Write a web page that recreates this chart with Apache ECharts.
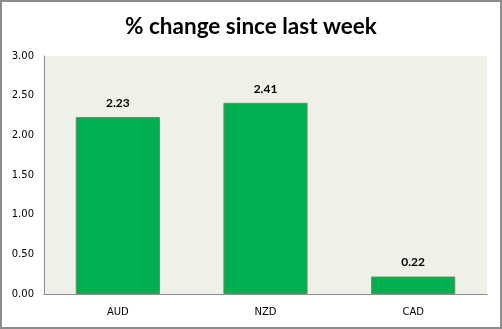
<!DOCTYPE html>
<html>
<head>
<meta charset="utf-8">
<script src="https://cdn.jsdelivr.net/npm/echarts@6/dist/echarts.min.js"></script>
<style>
  html, body { margin: 0; padding: 0; background: #fff; }
  #frame { position: absolute; left: 0; top: 0; width: 498px; height: 325px; border: 2px solid #8c8c8c; background: #fff; }
  #chart { width: 498px; height: 325px; }
</style>
</head>
<body>
<div id="frame"><div id="chart"></div></div>
<script>
// Weekly percentage change by currency
const categories = ['AUD', 'NZD', 'CAD'];
const changeValues = [2.23, 2.41, 0.22];
const yTicks = { min: 0, max: 3, interval: 0.5 };

const chart = echarts.init(document.getElementById('chart'), null, { renderer: 'canvas' });
chart.setOption({
  animation: false,
  title: {
    text: '% change since last week',
    left: 'center',
    top: 8,
    textStyle: { fontFamily: 'Lato', fontWeight: 'bold', fontSize: 22.5, color: '#000' }
  },
  grid: { left: 42, right: 13, top: 54, bottom: 33, backgroundColor: '#eff0e8', show: true, borderWidth: 0 },
  xAxis: {
    type: 'category',
    data: categories,
    axisLine: { lineStyle: { color: '#8c8c8c', width: 1 } },
    axisTick: { show: false },
    axisLabel: { fontFamily: 'DejaVu Sans', fontSize: 10, color: '#000', margin: 13 }
  },
  yAxis: {
    type: 'value',
    min: yTicks.min, max: yTicks.max, interval: yTicks.interval,
    axisLine: { show: true, lineStyle: { color: '#8c8c8c', width: 1 } },
    axisTick: { show: false },
    splitLine: { show: false },
    axisLabel: { fontFamily: 'DejaVu Sans', fontSize: 10, color: '#000', margin: 10,
      formatter: v => v.toFixed(2) }
  },
  series: [{
    type: 'bar',
    data: changeValues,
    barWidth: '57%',
    itemStyle: { color: '#00b050', borderColor: '#5f8f62', borderWidth: 1 },
    label: {
      show: true, position: 'top', distance: 8,
      fontFamily: 'Lato', fontWeight: 'bold', fontSize: 12, color: '#000',
      formatter: p => p.value.toFixed(2)
    }
  }]
});
</script>
</body>
</html>
